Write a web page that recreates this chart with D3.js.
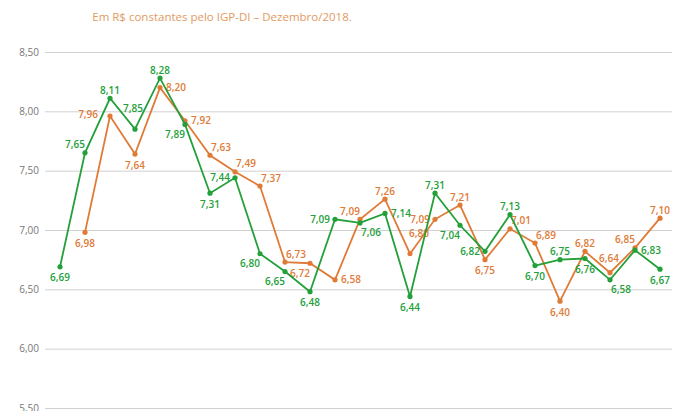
<!DOCTYPE html>
<html>
<head>
<meta charset="utf-8">
<script src="https://cdn.jsdelivr.net/npm/d3@7"></script>
<style>
  html, body { margin: 0; padding: 0; background: #fff; }
  svg { display: block; font-family: "Open Sans", "Lato", sans-serif; }
</style>
</head>
<body>
<svg id="chart" width="678" height="411"></svg>
<script>
// ---- data ----
const yTicks = [5.5, 6.0, 6.5, 7.0, 7.5, 8.0, 8.5];
const greenValues = [6.69, 7.65, 8.11, 7.85, 8.28, 7.89, 7.31, 7.44, 6.80, 6.65, 6.48, 7.09, 7.06, 7.14, 6.44, 7.31, 7.04, 6.82, 7.13, 6.70, 6.75, 6.76, 6.58, 6.83, 6.67];
const orangeValues = [null, 6.98, 7.96, 7.64, 8.20, 7.92, 7.63, 7.49, 7.37, 6.73, 6.72, 6.58, 7.09, 7.26, 6.80, 7.09, 7.21, 6.75, 7.01, 6.89, 6.40, 6.82, 6.64, 6.85, 7.10];
const subtitle = "Em R$ constantes pelo IGP-DI – Dezembro/2018.";

// label placement codes (layout only)
const greenPlace = ['b','al','a','A','a','bl','b','l','bl','bl','b','l','br','r','b','a','bl','l','a','b','a','b','br','r','b'];
const orangePlace = [null,'b','L','b','r','r','ar','ar','ar','ar','bl','r','al','a','AR','l','a','b','ar','ar','b','a','am','al','a'];

const GREEN = "#23a03a";
const ORANGE = "#e07a36";

const svg = d3.select("#chart");
const x = d3.scaleLinear().domain([0, greenValues.length - 1]).range([60, 660]);
const y = d3.scaleLinear().domain([5.5, 8.5]).range([408, 52]);
const fmt = v => d3.format(".2f")(v).replace(".", ",");

// subtitle
svg.append("text").attr("x", 222).attr("y", 21).attr("text-anchor", "middle")
  .attr("fill", "#e39a62").attr("font-size", 11.5).attr("font-weight", 400)
  .text(subtitle);

// grid + y axis
const yAxis = d3.axisLeft(y).tickValues(yTicks).tickFormat(fmt).tickSize(-627).tickPadding(6);
const ga = svg.append("g").attr("transform", "translate(45,0)").call(yAxis);
ga.select(".domain").remove();
ga.selectAll(".tick line").attr("stroke", "#d0d0d0").attr("stroke-width", 1);
ga.selectAll(".tick text").attr("fill", "#777").attr("font-size", 10).attr("font-family", "Open Sans, sans-serif");

const offsets = {
  a:  {dx: 0,   dy: -8,  anchor: "middle"},
  am: {dx: -1,  dy: -14, anchor: "middle"},
  A:  {dx: -2,  dy: -21, anchor: "middle"},
  b:  {dx: 0,   dy: 11,  anchor: "middle"},
  l:  {dx: -5,  dy: 0,   anchor: "end"},
  L:  {dx: -12, dy: -2,  anchor: "end"},
  r:  {dx: 6,   dy: 0,   anchor: "start"},
  al: {dx: -10, dy: -8,  anchor: "middle"},
  ar: {dx: 11,  dy: -8,  anchor: "middle"},
  AR: {dx: 9,   dy: -20, anchor: "middle"},
  bl: {dx: -10, dy: 10,  anchor: "middle"},
  br: {dx: 11,  dy: 10,  anchor: "middle"}
};

function drawSeries(values, places, color) {
  const pts = values.map((v, i) => ({i, v, p: places[i]})).filter(d => d.v !== null);
  const line = d3.line().x(d => x(d.i)).y(d => y(d.v));
  svg.append("path").datum(pts).attr("d", line)
    .attr("fill", "none").attr("stroke", color).attr("stroke-width", 1.8)
    .attr("stroke-linejoin", "miter");
  svg.append("g").selectAll("circle").data(pts).join("circle")
    .attr("cx", d => x(d.i)).attr("cy", d => y(d.v)).attr("r", 2.6).attr("fill", color);
  svg.append("g").selectAll("text").data(pts).join("text")
    .attr("x", d => x(d.i) + offsets[d.p].dx)
    .attr("y", d => y(d.v) + offsets[d.p].dy + 3.5)
    .attr("text-anchor", d => offsets[d.p].anchor)
    .attr("fill", color).attr("font-size", 10).attr("font-weight", 600)
    .text(d => fmt(d.v));
}

drawSeries(orangeValues, orangePlace, ORANGE);
drawSeries(greenValues, greenPlace, GREEN);
</script>
</body>
</html>
